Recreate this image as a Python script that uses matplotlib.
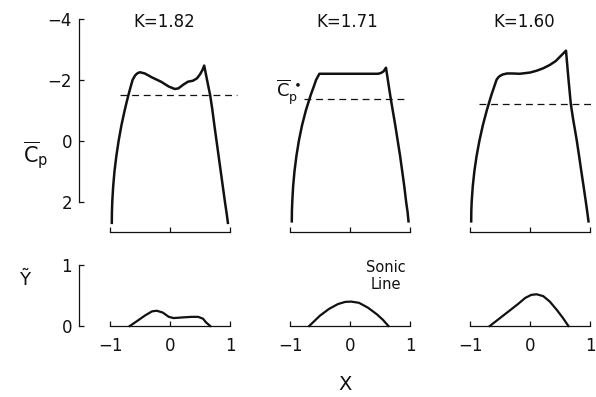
import matplotlib
matplotlib.use("Agg")
import matplotlib.pyplot as plt

plt.rcParams['font.family'] = ['DejaVu Sans']
plt.rcParams['axes.unicode_minus'] = True

# Surface pressure coefficient along the chord for three values of K
k_labels = ["K=1.82", "K=1.71", "K=1.60"]

cp_x_182 = [-0.970, -0.968, -0.962, -0.947, -0.925, -0.894, -0.856, -0.833, -0.810,
            -0.783, -0.755, -0.725, -0.693, -0.659, -0.623, -0.580, -0.540, -0.500,
            -0.420, -0.300, -0.150, -0.020, 0.080, 0.140, 0.220, 0.300, 0.380, 0.450,
            0.500, 0.540, 0.570, 0.620, 0.670, 0.707, 0.740, 0.775, 0.810, 0.845,
            0.880, 0.915, 0.945, 0.965]
cp_y_182 = [2.70, 2.35, 2.00, 1.50, 1.00, 0.50, 0.00, -0.25, -0.50,
            -0.75, -1.00, -1.25, -1.50, -1.75, -2.00, -2.15, -2.22, -2.25,
            -2.21, -2.08, -1.94, -1.78, -1.70, -1.72, -1.84, -1.94, -1.97, -2.05,
            -2.18, -2.32, -2.47, -1.97, -1.49, -1.00, -0.50, 0.00, 0.50, 1.00,
            1.50, 2.00, 2.40, 2.70]

cp_x_171 = [-0.970, -0.968, -0.962, -0.948, -0.925, -0.893, -0.852, -0.800, -0.735,
            -0.655, -0.600, -0.565, -0.510, 0.000, 0.470, 0.520, 0.560, 0.600, 0.640,
            0.680, 0.712, 0.755, 0.795, 0.835, 0.870, 0.905, 0.935, 0.960, 0.975]
cp_y_171 = [2.65, 2.30, 2.00, 1.50, 1.00, 0.50, 0.00, -0.50, -1.00,
            -1.50, -1.80, -2.00, -2.20, -2.20, -2.20, -2.23, -2.28, -2.40, -1.88,
            -1.37, -1.00, -0.50, 0.00, 0.50, 1.00, 1.50, 2.00, 2.35, 2.65]

cp_x_160 = [-0.980, -0.978, -0.972, -0.954, -0.927, -0.890, -0.843, -0.787, -0.720,
            -0.644, -0.558, -0.530, -0.500, -0.450, -0.380, -0.300, -0.170, 0.000,
            0.110, 0.220, 0.330, 0.430, 0.500, 0.560, 0.600, 0.640, 0.680, 0.720,
            0.750, 0.780, 0.818, 0.855, 0.893, 0.930, 0.955, 0.975]
cp_y_160 = [2.65, 2.30, 2.00, 1.50, 1.00, 0.50, 0.00, -0.50, -1.00,
            -1.50, -2.00, -2.08, -2.13, -2.18, -2.21, -2.21, -2.20, -2.24,
            -2.30, -2.38, -2.49, -2.62, -2.76, -2.88, -2.96, -2.05, -1.21, -0.69,
            -0.35, 0.00, 0.50, 1.00, 1.50, 2.00, 2.35, 2.65]

# Critical pressure coefficient (dashed level) and its drawn extent
cp_star = [-1.49, -1.37, -1.21]
cp_star_x0 = [-0.83, -0.76, -0.85]
cp_star_x1 = [1.12, 0.95, 1.08]

# Sonic line height above the surface
y_x_182 = [-0.67, -0.55, -0.42, -0.30, -0.22, -0.12, -0.02, 0.06, 0.20, 0.36, 0.47, 0.55, 0.60, 0.67]
y_y_182 = [0.0, 0.08, 0.17, 0.24, 0.25, 0.22, 0.15, 0.13, 0.14, 0.15, 0.15, 0.12, 0.06, 0.0]

y_x_171 = [-0.68, -0.50, -0.35, -0.20, -0.08, 0.02, 0.15, 0.30, 0.45, 0.55, 0.64]
y_y_171 = [0.0, 0.17, 0.28, 0.36, 0.395, 0.40, 0.38, 0.30, 0.19, 0.10, 0.0]

y_x_160 = [-0.67, -0.50, -0.33, -0.20, -0.08, 0.02, 0.11, 0.22, 0.33, 0.45, 0.55, 0.64]
y_y_160 = [0.0, 0.13, 0.26, 0.36, 0.46, 0.51, 0.52, 0.49, 0.40, 0.26, 0.13, 0.0]

cp_curves = [(cp_x_182, cp_y_182), (cp_x_171, cp_y_171), (cp_x_160, cp_y_160)]
y_curves = [(y_x_182, y_y_182), (y_x_171, y_y_171), (y_x_160, y_y_160)]

x_ticks = [-1, 0, 1]
x_ticklabels = ["\u22121", "0", "1"]
cp_ticks = [-4, -2, 0, 2]
cp_ticklabels = ["\u22124", "\u22122", "0", "2"]
y_ticks = [0, 1]
y_ticklabels = ["0", "1"]

W, H = 596, 397
fig = plt.figure(figsize=(W / 100, H / 100), dpi=100)
fig.patch.set_facecolor("white")

def frac(px, py):
    return px / W, 1 - py / H

ink = "#111111"
left_px = [110, 290, 470]
panel_w = 120
top_cp_px, bot_cp_px = 19, 232
top_y_px, bot_y_px = 265, 326
outward_pt = 31 * 72 / 100

for i in range(3):
    # ---- pressure coefficient panel ----
    l = left_px[i] / W
    ax = fig.add_axes([l, 1 - bot_cp_px / H, panel_w / W, (bot_cp_px - top_cp_px) / H])
    ax.set_xlim(-1, 1)
    ax.set_ylim(3.0, -4.0)
    ax.patch.set_alpha(0)
    for s in ("top", "right"):
        ax.spines[s].set_visible(False)
    ax.spines["bottom"].set_bounds(-1, 1)
    ax.spines["bottom"].set_linewidth(0.9)
    ax.spines["bottom"].set_color(ink)
    ax.set_xticks(x_ticks)
    ax.tick_params(axis="x", direction="in", length=3.5, width=0.9, color=ink,
                   labelbottom=False)
    if i == 0:
        ax.spines["left"].set_position(("outward", outward_pt))
        ax.spines["left"].set_bounds(-4, 2)
        ax.spines["left"].set_linewidth(0.9)
        ax.spines["left"].set_color(ink)
        ax.set_yticks(cp_ticks)
        ax.set_yticklabels(cp_ticklabels)
        ax.tick_params(axis="y", direction="in", length=3.5, width=0.9, color=ink,
                       labelsize=12, pad=5, labelcolor=ink)
    else:
        ax.spines["left"].set_visible(False)
        ax.tick_params(axis="y", left=False, labelleft=False)

    cx, cy = cp_curves[i]
    ax.plot(cx, cy, color=ink, lw=1.8, solid_joinstyle="round", clip_on=False)
    ax.plot([cp_star_x0[i], cp_star_x1[i]], [cp_star[i], cp_star[i]], color=ink,
            lw=0.9, dashes=(5.5, 3.8), clip_on=False)

    # ---- sonic line panel ----
    bx = fig.add_axes([l, 1 - bot_y_px / H, panel_w / W, (bot_y_px - top_y_px) / H])
    bx.set_xlim(-1, 1)
    bx.set_ylim(0, 1)
    bx.patch.set_alpha(0)
    for s in ("top", "right"):
        bx.spines[s].set_visible(False)
    bx.spines["bottom"].set_bounds(-1, 1)
    bx.spines["bottom"].set_linewidth(0.9)
    bx.spines["bottom"].set_color(ink)
    bx.set_xticks(x_ticks)
    bx.set_xticklabels(x_ticklabels)
    bx.tick_params(axis="x", direction="in", length=3.5, width=0.9, color=ink,
                   labelsize=12, pad=8, labelcolor=ink)
    if i == 0:
        bx.spines["left"].set_position(("outward", outward_pt))
        bx.spines["left"].set_bounds(0, 1)
        bx.spines["left"].set_linewidth(0.9)
        bx.spines["left"].set_color(ink)
        bx.set_yticks(y_ticks)
        bx.set_yticklabels(y_ticklabels)
        bx.tick_params(axis="y", direction="in", length=3.5, width=0.9, color=ink,
                       labelsize=12, pad=5, labelcolor=ink)
    else:
        bx.spines["left"].set_visible(False)
        bx.tick_params(axis="y", left=False, labelleft=False)

    sx, sy = y_curves[i]
    bx.plot(sx, sy, color=ink, lw=1.6, solid_joinstyle="round", clip_on=False)

# Panel titles
for px, label in zip([164, 347, 524], k_labels):
    fig.text(*frac(px, 22), label, ha="center", va="center", fontsize=12, color=ink)

# Axis titles and annotations
fig.text(*frac(36, 155), r"$\overline{\mathregular{C}}_{\mathregular{p}}$", ha="center",
         va="center", fontsize=15, color=ink)
fig.text(*frac(25, 280), "\u1ef8", ha="center", va="center", fontsize=13, color=ink)
fig.text(*frac(345, 384), "X", ha="center", va="center", fontsize=14, color=ink)
fig.text(*frac(386, 276), "Sonic\nLine", ha="center", va="center", fontsize=10.5,
         color=ink, linespacing=1.15)
fig.text(*frac(301, 92), r"$\overline{\mathregular{C}}_{\mathregular{p}}^{\,\bullet}$",
         ha="right", va="center", fontsize=13, color=ink)

fig.savefig("out.png", dpi=100, facecolor="white")
